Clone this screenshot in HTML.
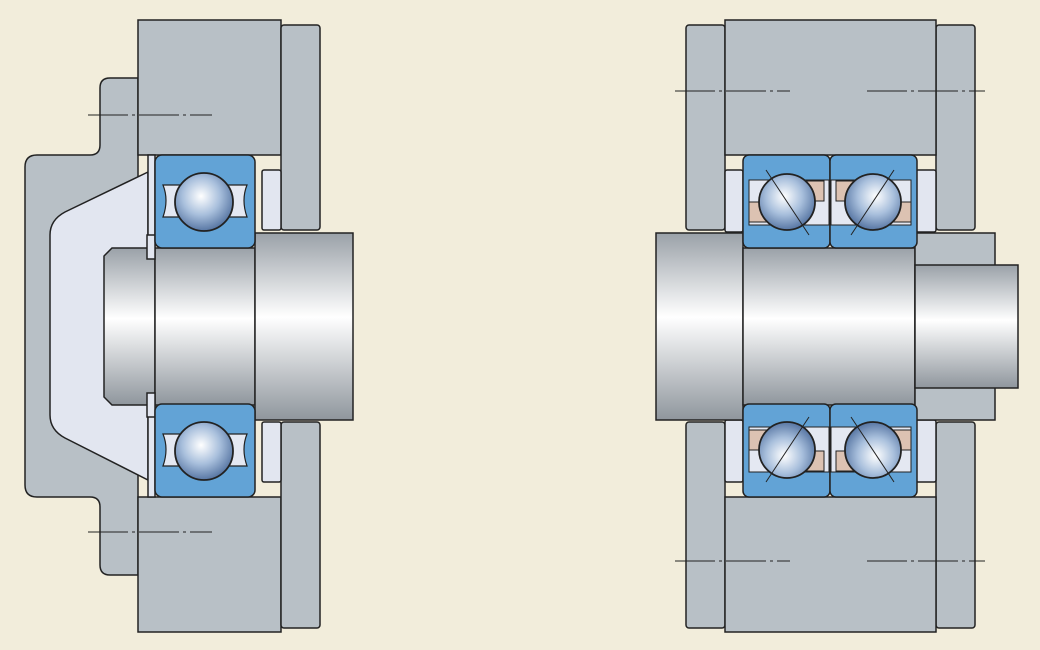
<!DOCTYPE html>
<html><head><style>body{margin:0;background:#f2eddb}svg{display:block}</style></head><body>
<svg width="1040" height="650" viewBox="0 0 1040 650" xmlns="http://www.w3.org/2000/svg">
<defs>
<linearGradient id="sh" x1="0" y1="0" x2="0" y2="1">
<stop offset="0" stop-color="#9aa1a8"/><stop offset="0.45" stop-color="#ffffff"/><stop offset="1" stop-color="#8f969d"/></linearGradient>
<linearGradient id="sh2" x1="0" y1="0" x2="1" y2="0">
<stop offset="0" stop-color="#a4abb2"/><stop offset="0.4" stop-color="#fff"/><stop offset="1" stop-color="#a4abb2"/></linearGradient>
<radialGradient id="ball" cx="0.45" cy="0.4" r="0.65">
<stop offset="0" stop-color="#fff"/><stop offset="0.5" stop-color="#a8bfdc"/><stop offset="1" stop-color="#4a6a9a"/></radialGradient>
<g id="brg">
<rect x="0" y="0" width="100" height="93" rx="7" fill="#62a3d6" stroke="#222" stroke-width="1.5"/>
<path d="M8 30 Q14 45 8 62 L92 62 Q86 45 92 30 Z" fill="#e4e8f2" stroke="#222" stroke-width="1.2"/>
<rect x="28" y="30" width="44" height="32" fill="#e4e8f2"/>
<circle cx="49" cy="47" r="29" fill="url(#ball)" stroke="#222" stroke-width="1.8"/>
</g>
<g id="abrg">
<rect x="0" y="0" width="87" height="93" rx="6" fill="#62a3d6" stroke="#222" stroke-width="1.5"/>
<rect x="6" y="25" width="80" height="45" fill="#e4e8f2" stroke="#222" stroke-width="1"/>
<rect x="55" y="26" width="26" height="20" fill="#dcc2b2" stroke="#222" stroke-width="1"/>
<rect x="6" y="47" width="30" height="20" fill="#dcc2b2" stroke="#222" stroke-width="1"/>
<circle cx="44" cy="47" r="28" fill="url(#ball)" stroke="#222" stroke-width="1.8"/>
<line x1="23" y1="15" x2="66" y2="80" stroke="#222" stroke-width="1"/>
</g>
</defs>
<g stroke="#222" stroke-width="1.5">
<!-- LEFT -->
<path d="M138 78 H110 Q100 78 100 88 V145 Q100 155 90 155 H37 Q25 155 25 167 V485 Q25 497 37 497 H90 Q100 497 100 507 V565 Q100 575 110 575 H138 Z" fill="#b8c0c6"/>
<path d="M148 172 L65 212 Q50 220 50 235 V415 Q50 430 65 438 L148 480 Z" fill="#e2e6f0"/>
<rect x="138" y="20" width="143" height="135" fill="#b8c0c6"/>
<rect x="138" y="497" width="143" height="135" fill="#b8c0c6"/>
<rect x="281" y="25" width="39" height="205" rx="3" fill="#b8c0c6"/>
<rect x="281" y="422" width="39" height="206" rx="3" fill="#b8c0c6"/>
<rect x="262" y="170" width="19" height="60" rx="2" fill="#e2e6f0"/>
<rect x="262" y="422" width="19" height="60" rx="2" fill="#e2e6f0"/>
<rect x="148" y="155" width="7" height="95" fill="#e2e6f0"/>
<rect x="148" y="402" width="7" height="95" fill="#e2e6f0"/>
<path d="M112 248 H155 V405 H112 L104 397 V256 Z" fill="url(#sh)"/>
<rect x="155" y="248" width="100" height="157" fill="url(#sh)"/>
<rect x="255" y="233" width="98" height="187" fill="url(#sh)"/>
<rect x="147" y="235" width="8" height="24" fill="#e2e6f0"/>
<rect x="147" y="393" width="8" height="24" fill="#e2e6f0"/>
</g>
<use href="#brg" x="155" y="155"/>
<use href="#brg" x="155" y="404"/>
<g stroke="#222" stroke-width="1" stroke-dasharray="40 4 3 4">
<line x1="88" y1="115" x2="212" y2="115"/><line x1="88" y1="532" x2="212" y2="532"/>
</g>
<!-- RIGHT -->
<g stroke="#222" stroke-width="1.5">
<rect x="686" y="25" width="39" height="205" rx="3" fill="#b8c0c6"/>
<rect x="936" y="25" width="39" height="205" rx="3" fill="#b8c0c6"/>
<rect x="686" y="422" width="39" height="206" rx="3" fill="#b8c0c6"/>
<rect x="936" y="422" width="39" height="206" rx="3" fill="#b8c0c6"/>
<rect x="725" y="20" width="211" height="135" fill="#b8c0c6"/>
<rect x="725" y="497" width="211" height="135" fill="#b8c0c6"/>
<rect x="725" y="170" width="18" height="62" rx="2" fill="#e2e6f0"/>
<rect x="916" y="170" width="20" height="62" rx="2" fill="#e2e6f0"/>
<rect x="725" y="420" width="18" height="62" rx="2" fill="#e2e6f0"/>
<rect x="916" y="420" width="20" height="62" rx="2" fill="#e2e6f0"/>
<rect x="656" y="233" width="87" height="187" fill="url(#sh)"/>
<rect x="743" y="248" width="172" height="157" fill="url(#sh)"/>
<rect x="915" y="233" width="80" height="187" fill="#b8c0c6"/>
<rect x="915" y="265" width="103" height="123" fill="url(#sh)"/>
</g>
<use href="#abrg" x="743" y="155"/>
<g transform="translate(1660,0) scale(-1,1)"><use href="#abrg" x="743" y="155"/></g>
<g transform="translate(0,652) scale(1,-1)"><use href="#abrg" x="743" y="155"/>
<g transform="translate(1660,0) scale(-1,1)"><use href="#abrg" x="743" y="155"/></g></g>
<g stroke="#222" stroke-width="1" stroke-dasharray="40 4 3 4">
<line x1="675" y1="91" x2="790" y2="91"/><line x1="867" y1="91" x2="985" y2="91"/>
<line x1="675" y1="561" x2="790" y2="561"/><line x1="867" y1="561" x2="985" y2="561"/>
</g>
</svg>
</body></html>
